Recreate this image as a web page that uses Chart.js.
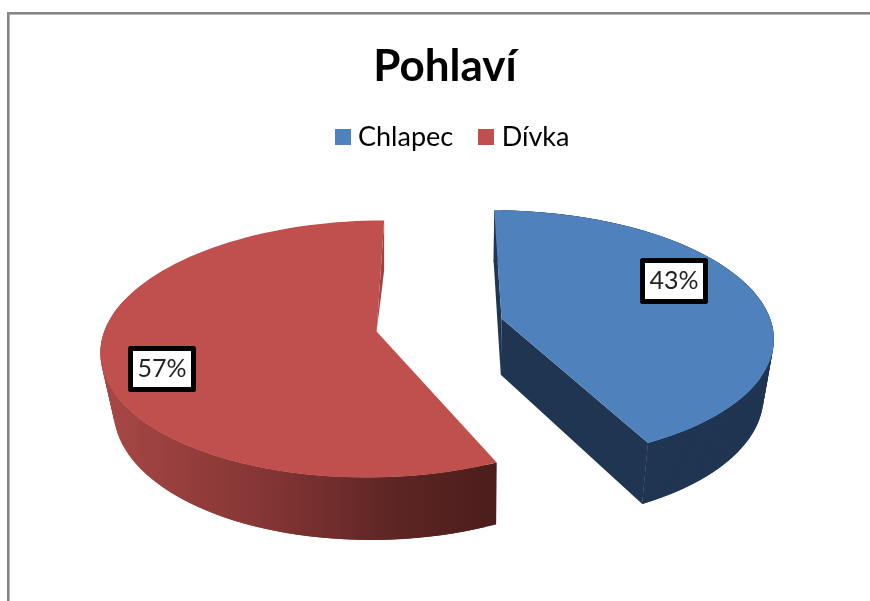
<!DOCTYPE html>
<html>
<head>
<meta charset="utf-8">
<title>Pohlaví</title>
<script src="https://cdn.jsdelivr.net/npm/chart.js@4/dist/chart.umd.min.js"></script>
<style>
    html, body { margin: 0; padding: 0; background: #fff; overflow: hidden; }
    #frame { position: absolute; left: 7px; top: 12px; width: 870px; height: 600px; border-left: 2px solid #868686; border-top: 2px solid #868686; box-shadow: inset 1px 1px 0 #b4b4b4; }
    canvas { position: absolute; left: 0; top: 0; }
</style>
</head>
<body>
<div id="frame"></div>
<canvas id="chart" width="870" height="601"></canvas>
<script>
const categories = ["Chlapec", "Dívka"];
const values = [43, 57];
const sliceColors = ["#4f81bd", "#c0504d"];

// pohled na kolac: perspektiva + vyska valce
const view = { x0: 439.5, y0: 325, squash: 0.46, k: 0.0005, height: 56 };
const labelSpots = [[674, 281], [162, 369]];
const edgeSkew = [0.03, 0.012]; // predni hrana se v perspektive trochu rozchazi

function project(x, y) {
    const w = 1 - view.k * y;
    return [view.x0 + x / w, view.y0 + view.squash * y / w];
}

function lower(p) {
    return [480 + (p[0] - 480) * 0.965, p[1] + view.height + (p[1] - 316) * 0.04];
}

function poly(ctx, pts) {
    ctx.beginPath();
    pts.forEach((p, i) => i ? ctx.lineTo(p[0], p[1]) : ctx.moveTo(p[0], p[1]));
    ctx.closePath();
}

function sideStyle(ctx, index) {
    if (index === 0) return "#1f3552";
    const g = ctx.createLinearGradient(100, 0, 498, 0);
    g.addColorStop(0, "#a94846");
    g.addColorStop(0.45, "#803433");
    g.addColorStop(0.75, "#5c2523");
    g.addColorStop(1, "#4b1d1b");
    return g;
}

function swatch(color) {
    const c = document.createElement("canvas");
    c.width = c.height = 16;
    const g = c.getContext("2d");
    g.fillStyle = color;
    g.fillRect(0, 0, 16, 16);
    return c;
}

const pie3d = {
    id: "pie3d",
    afterLayout(chart) {
        chart.legend.left += 10;
        chart.legend.right += 10;
    },
    beforeDatasetDraw(chart) {
        const ctx = chart.ctx;
        const arcs = chart.getDatasetMeta(0).data;
        arcs.forEach((arc, index) => {
            const mid = (arc.startAngle + arc.endAngle) / 2;
            const off = arc.options.offset;
            const ox = Math.cos(mid) * off;
            const oy = Math.sin(mid) * off;
            const r = arc.outerRadius;
            const from = arc.startAngle + (index === 1 ? edgeSkew[1] : 0);
            const to = arc.endAngle - (index === 0 ? edgeSkew[0] : 0);
            const rim = [];
            const angles = [];
            const steps = 90;
            for (let i = 0; i <= steps; i++) {
                const t = from + (to - from) * i / steps;
                angles.push(t);
                rim.push(project(ox + r * Math.cos(t), oy + r * Math.sin(t)));
            }
            const apex = project(ox, oy);
            const side = sideStyle(ctx, index);

            ctx.save();
            // rezy
            if (index === 0) {
                ctx.fillStyle = "#1f3552";
                poly(ctx, [apex, rim[0], lower(rim[0]), lower(apex)]);
                ctx.fill();
                poly(ctx, [apex, rim[steps], lower(rim[steps]), lower(apex)]);
                ctx.fill();
            } else {
                ctx.fillStyle = "#9e4240";
                poly(ctx, [apex, rim[steps], [rim[steps][0], rim[steps][1] + 50]]);
                ctx.fill();
            }
            // plast jen vpredu, useky se prekryvaji aby nebyly videt spary
            ctx.fillStyle = side;
            for (let i = 0; i < steps; i++) {
                if (index === 1 && Math.sin(angles[i]) < -0.25) continue;
                const next = Math.min(i + 2, steps);
                poly(ctx, [rim[i], rim[next], lower(rim[next]), lower(rim[i])]);
                ctx.fill();
            }
            poly(ctx, [apex].concat(rim));
            ctx.fillStyle = arc.options.backgroundColor;
            ctx.fill();
            ctx.restore();
        });

        const total = values.reduce((a, b) => a + b, 0);
        ctx.save();
        ctx.font = "25px Lato";
        ctx.textAlign = "center";
        ctx.textBaseline = "middle";
        values.forEach((v, i) => {
            const [x, y] = labelSpots[i];
            ctx.fillStyle = "#fff";
            ctx.fillRect(x - 32, y - 21, 64, 42);
            ctx.strokeStyle = "#000";
            ctx.lineWidth = 5;
            ctx.lineJoin = "round";
            ctx.strokeRect(x - 31.5, y - 20.5, 63, 41);
            ctx.fillStyle = "#222";
            ctx.fillText(Math.round(v / total * 100) + "%", x, y);
        });
        ctx.restore();
        return false; // vlastni kresleni misto plochych vyseci
    }
};

new Chart(document.getElementById("chart"), {
    type: "pie",
    data: {
        labels: categories,
        datasets: [{
            data: values,
            backgroundColor: sliceColors,
            borderWidth: 0,
            offset: 64
        }]
    },
    options: {
        responsive: false,
        animation: false,
        radius: 270.5,
        layout: { padding: { top: 40, left: 20 } },
        plugins: {
            tooltip: { enabled: false },
            title: {
                display: true,
                text: "Pohlaví",
                color: "#000",
                font: { family: "Lato", size: 44, weight: "bold" },
                padding: { top: 0, bottom: 0 }
            },
            legend: {
                position: "top",
                labels: {
                    color: "#1a1a1a",
                    font: { family: "Lato", size: 27 },
                    usePointStyle: true,
                    pointStyleWidth: 4,
                    padding: 31,
                    generateLabels: chart => categories.map((name, i) => ({
                        text: name,
                        pointStyle: swatch(sliceColors[i]),
                        fillStyle: sliceColors[i],
                        strokeStyle: sliceColors[i],
                        lineWidth: 0,
                        index: i
                    }))
                }
            }
        }
    },
    plugins: [pie3d]
});
</script>
</body>
</html>
